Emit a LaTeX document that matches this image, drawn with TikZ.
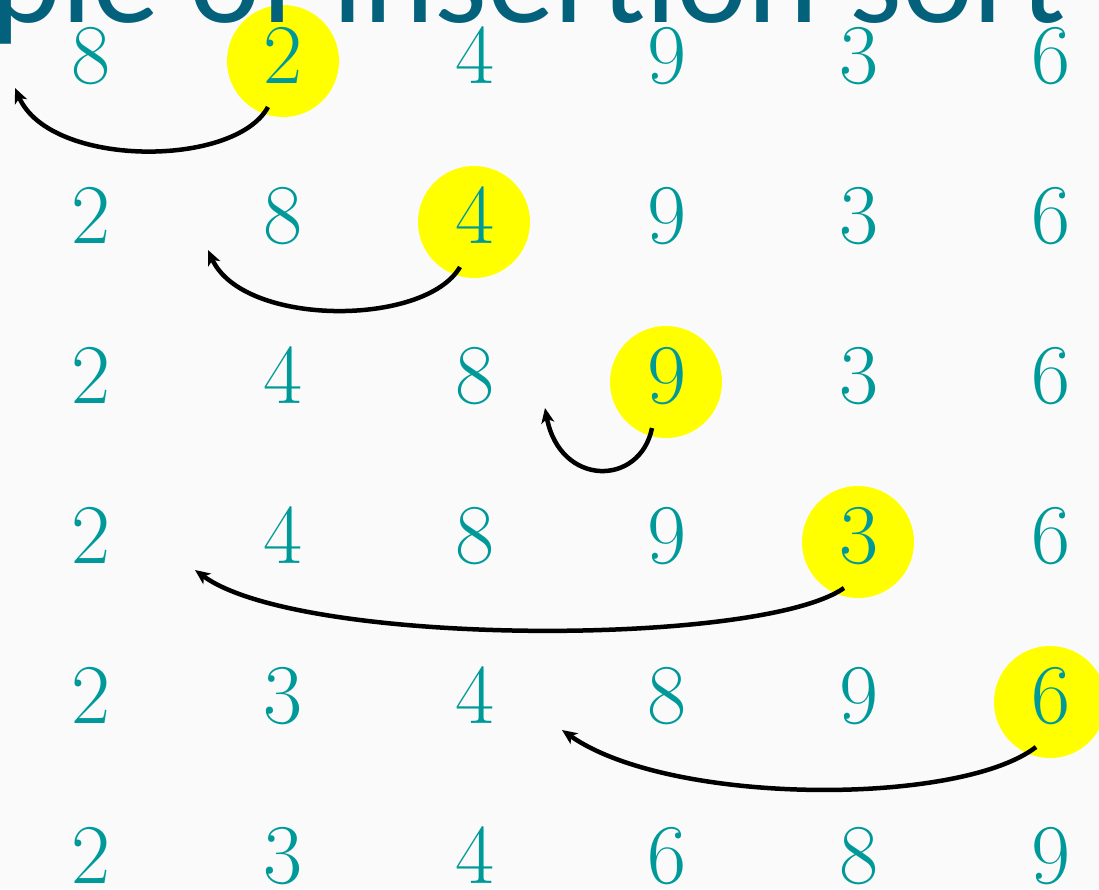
\documentclass[tikz,border=0pt]{standalone}
\usepackage{fontspec}
\newfontfamily\titlefont{Carlito}
\usetikzlibrary{arrows.meta,calc}
\definecolor{digit}{RGB}{0,153,153}
\definecolor{titleblue}{RGB}{4,97,123}
\definecolor{bgcol}{RGB}{250,250,250}
\definecolor{hl}{RGB}{255,255,0}
\begin{document}
\begin{tikzpicture}[x=1pt,y=-1pt,
  num/.style={text=digit, font=\rmfamily\fontsize{85}{85}\selectfont, anchor=base, inner sep=0pt, text height=55pt, text depth=0pt},
  hilite/.style={circle, fill=hl, minimum size=112pt, inner sep=0pt},
  move/.style={line width=4.5pt, -{Stealth[length=15pt,width=13pt,inset=4pt]}}]
\useasboundingbox (0,0) rectangle (1099,889);
\clip (0,0) rectangle (1099,889);
\fill[bgcol] (0,0) rectangle (1099,889);
% highlighted circles
\node[hilite] (h1) at (283,61) {};
\node[hilite] (h2) at (474,222) {};
\node[hilite] (h3) at (666,382) {};
\node[hilite] (h4) at (858,542) {};
\node[hilite] (h5) at (1050,702) {};
% digits
\foreach [count=\r] \lst in {{8,2,4,9,3,6},{2,8,4,9,3,6},{2,4,8,9,3,6},{2,4,8,9,3,6},{2,3,4,8,9,6},{2,3,4,6,8,9}} {
  \foreach [count=\c] \d in \lst {
    \node[num] (d\r\c) at ({91+192*(\c-1)}, {83+160*(\r-1)}) {\d};
  }
}
% arrow end points
\coordinate (t1) at (15,88);
\coordinate (t2) at (208,250);
\coordinate (t3) at (545,408);
\coordinate (t4) at (195,570);
\coordinate (t5) at (562,730);
\draw[move] ($(h1)+(-15,46)$) .. controls (235,168) and (50,168) .. (t1);
\draw[move] ($(h2)+(-14,45)$) .. controls (425,327) and (243,327) .. (t2);
\draw[move] ($(h3)+(-14,46)$) .. controls (640,487) and (560,487) .. (t3);
\draw[move] ($(h4)+(-14,46)$) .. controls (760,647) and (300,647) .. (t4);
\draw[move] ($(h5)+(-14,45)$) .. controls (960,806) and (670,806) .. (t5);
% title (cut off at the top)
\node[anchor=base east, inner sep=0pt, text=titleblue, font=\titlefont\fontsize{135}{135}\selectfont, text depth=0pt] (title) at (1066,22) {ple of insertion sort};
\end{tikzpicture}
\end{document}
